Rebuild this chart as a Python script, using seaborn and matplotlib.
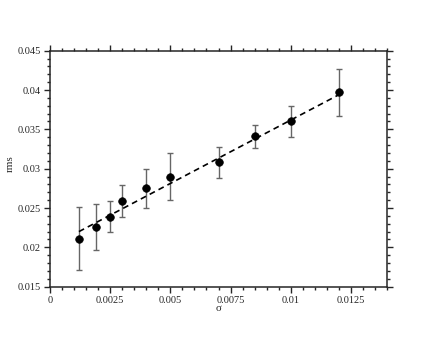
import numpy as np
import pandas as pd
import matplotlib
matplotlib.use("Agg")
import matplotlib.pyplot as plt
import seaborn as sns
from matplotlib.ticker import MultipleLocator

# values
sigma = [0.0012, 0.0019, 0.0025, 0.0030, 0.0040, 0.0050, 0.0070, 0.0085, 0.0100, 0.0120]
rms = [0.0211, 0.0226, 0.0239, 0.0259, 0.0275, 0.0290, 0.0308, 0.0341, 0.0360, 0.0397]
rms_err = [0.0040, 0.0029, 0.0020, 0.0020, 0.0025, 0.0030, 0.0020, 0.0015, 0.0020, 0.0030]
# dashed linear fit, end points
fit_sigma = [0.0012, 0.0120]
fit_rms = [0.0220, 0.0394]

df = pd.DataFrame({"sigma": sigma, "rms": rms, "err": rms_err})
fit = pd.DataFrame({"sigma": fit_sigma, "rms": fit_rms})

sns.set_style("ticks")
plt.rcParams["font.family"] = ["Liberation Serif", "DejaVu Serif"]

fig = plt.figure(figsize=(4.36, 3.37), dpi=100)
ax = fig.add_axes([0.1147, 0.1493, 0.7729, 0.7003])

ax.errorbar(df["sigma"], df["rms"], yerr=df["err"], fmt="none",
            ecolor="#666666", elinewidth=1.0, capsize=2.5, capthick=1.0, zorder=2)
sns.lineplot(data=fit, x="sigma", y="rms", ax=ax, color="black",
             linestyle=(0, (3.5, 2.5)), linewidth=1.2, zorder=3)
sns.scatterplot(data=df, x="sigma", y="rms", ax=ax, color="black",
                s=30, edgecolor="black", linewidth=0.5, zorder=4)

ax.set_xlim(0, 0.014)
ax.set_ylim(0.015, 0.045)
ax.xaxis.set_minor_locator(MultipleLocator(0.0005))
ax.yaxis.set_minor_locator(MultipleLocator(0.001))
ax.set_xticks([0, 0.0025, 0.005, 0.0075, 0.01, 0.0125])
ax.set_xticklabels(["0", "0.0025", "0.005", "0.0075", "0.01", "0.0125"])
ax.set_yticks([0.015, 0.02, 0.025, 0.03, 0.035, 0.04, 0.045])
ax.set_yticklabels(["0.015", "0.02", "0.025", "0.03", "0.035", "0.04", "0.045"])

ax.tick_params(which="both", direction="out", top=True, right=True,
               labeltop=False, labelright=False, width=1.0, labelsize=7.5, pad=2)
ax.tick_params(which="major", length=4.5)
ax.tick_params(which="minor", length=2)
for sp in ax.spines.values():
    sp.set_linewidth(1.1)
    sp.set_visible(True)

ax.set_xlabel("σ", fontsize=8)
ax.set_ylabel("rms", fontsize=8)
ax.xaxis.set_label_coords(0.5, -0.075)
ax.yaxis.set_label_coords(-0.105, 0.52)

fig.savefig("out.png", dpi=100)
